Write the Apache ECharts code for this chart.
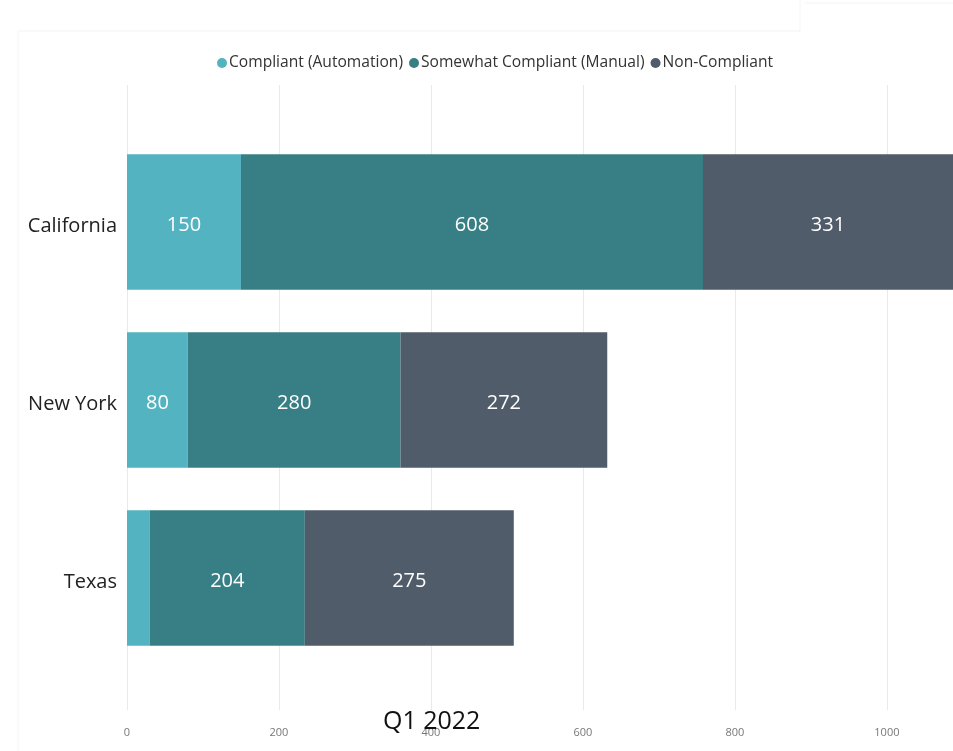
<!DOCTYPE html>
<html>
<head>
<meta charset="utf-8">
<script src="https://cdn.jsdelivr.net/npm/echarts@6/dist/echarts.min.js"></script>
<style>
  html, body { margin: 0; padding: 0; background: #ffffff; }
  #chart { width: 953px; height: 751px; }
</style>
</head>
<body>
<div id="chart"></div>
<script>
// Compliance status by state, Q1 2022
const states = ['California', 'New York', 'Texas'];
const seriesNames = ['Compliant (Automation)', 'Somewhat Compliant (Manual)', 'Non-Compliant'];
const automation = [150, 80, 30];
const manual = [608, 280, 204];
const nonCompliant = [331, 272, 275];
const xTicks = [0, 200, 400, 600, 800, 1000];
const colors = ['#53b3c0', '#387f85', '#505c6a'];
const chartTitle = 'Q1 2022';

const FONT = '"Open Sans", "Noto Sans", sans-serif';
const X_MAX = 1087;

const chart = echarts.init(document.getElementById('chart'), null, { renderer: 'canvas' });

function barSeries(name, values, color) {
  return {
    name: name,
    type: 'bar',
    stack: 'total',
    xAxisIndex: 0,
    yAxisIndex: 0,
    barCategoryGap: '24%',
    itemStyle: { color: color },
    label: {
      show: true,
      position: 'inside',
      offset: [0, 3],
      color: '#ffffff',
      fontSize: 20,
      fontFamily: FONT,
      formatter: p => (p.value >= 50 ? String(p.value) : '')
    },
    emphasis: { disabled: true },
    data: values
  };
}

const option = {
  animation: false,
  backgroundColor: '#ffffff',
  color: colors,
  title: {
    text: chartTitle,
    left: 378,
    top: 704,
    textStyle: { fontFamily: FONT, fontSize: 25, fontWeight: 'normal', color: '#111111' }
  },
  legend: {
    left: 212,
    top: 50,
    icon: 'circle',
    itemWidth: 10,
    itemHeight: 10,
    itemGap: 6,
    textStyle: { fontFamily: FONT, fontSize: 15.6, color: '#333333', padding: [0, 0, 0, -3] },
    data: seriesNames
  },
  graphic: [
    { type: 'line', shape: { x1: 18, y1: 31, x2: 800, y2: 31 }, style: { stroke: '#f3f3f3', lineWidth: 1 }, silent: true },
    { type: 'line', shape: { x1: 18, y1: 31, x2: 18, y2: 751 }, style: { stroke: '#f5f5f5', lineWidth: 1 }, silent: true },
    { type: 'line', shape: { x1: 800, y1: 0, x2: 800, y2: 31 }, style: { stroke: '#f5f5f5', lineWidth: 1 }, silent: true },
    { type: 'line', shape: { x1: 805, y1: 3, x2: 953, y2: 3 }, style: { stroke: '#f3f3f3', lineWidth: 1 }, silent: true }
  ],
  grid: [
    { left: 127, right: 0, top: 133, height: 534, containLabel: false },
    { left: 127, right: 0, top: 85, bottom: 41, containLabel: false }
  ],
  xAxis: [
    {
      gridIndex: 0,
      type: 'value',
      min: 0,
      max: X_MAX,
      show: false
    },
    {
      gridIndex: 1,
      type: 'value',
      min: 0,
      max: X_MAX,
      interval: 200,
      axisLine: { show: false },
      axisTick: { show: false },
      splitLine: { show: true, lineStyle: { color: '#e9e9e9', width: 1 } },
      axisLabel: {
        showMaxLabel: false,
        margin: 17,
        color: '#777777',
        fontSize: 11,
        fontFamily: FONT,
        formatter: v => (xTicks.includes(v) ? String(v) : '')
      }
    }
  ],
  yAxis: [
    {
      gridIndex: 0,
      type: 'category',
      inverse: true,
      data: states,
      axisLine: { show: false },
      axisTick: { show: false },
      splitLine: { show: false },
      axisLabel: {
        margin: 10,
        formatter: v => '{s|' + v + '}',
        rich: {
          s: { color: '#222222', fontSize: 20, fontFamily: FONT, padding: [9, 0, 0, 0] }
        }
      }
    },
    {
      gridIndex: 1,
      type: 'value',
      show: false
    }
  ],
  series: [
    barSeries(seriesNames[0], automation, colors[0]),
    barSeries(seriesNames[1], manual, colors[1]),
    barSeries(seriesNames[2], nonCompliant, colors[2])
  ]
};

chart.setOption(option);
</script>
</body>
</html>
